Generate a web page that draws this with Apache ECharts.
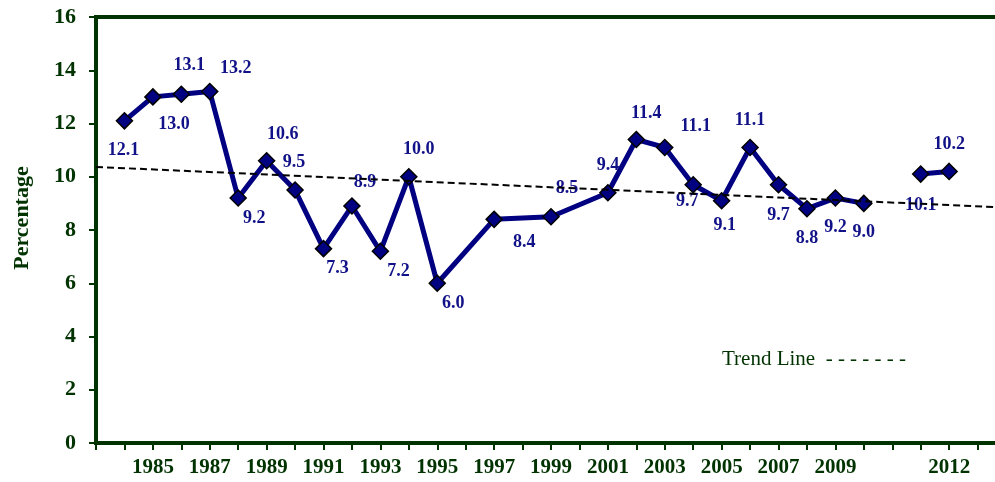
<!DOCTYPE html>
<html>
<head>
<meta charset="utf-8">
<script src="https://cdn.jsdelivr.net/npm/echarts@6/dist/echarts.min.js"></script>
<style>
  html, body { margin: 0; padding: 0; background: #fff; overflow: hidden; }
  /* the plot frame runs past the right edge of the window, so the host is wider */
  #chart { width: 1020px; height: 482px; }
</style>
</head>
<body>
<div id="chart"></div>
<script>
// categories: blank slot at start, 1984..2010, a gap, 2011, 2012, trailing slots
const categories = ['',
  '1984', '1985', '1986', '1987', '1988', '1989', '1990', '1991', '1992', '1993',
  '1994', '1995', '1996', '1997', '1998', '1999', '2000', '2001', '2002', '2003',
  '2004', '2005', '2006', '2007', '2008', '2009', '2010',
  ' ', '2011', '2012', '  ', '   ']

const shownLabels = ['1985', '1987', '1989', '1991', '1993', '1995', '1997', '1999',
  '2001', '2003', '2005', '2007', '2009', '2012']

// main series, 1984-2010 (years without a marker are null)
const mainValues = [null,
  12.1, 13.0, 13.1, 13.2, 9.2, 10.6, 9.5, 7.3, 8.9, 7.2,
  10.0, 6.0, null, 8.4, null, 8.5, null, 9.4, 11.4, 11.1,
  9.7, 9.1, 11.1, 9.7, 8.8, 9.2, 9.0,
  null, null, null, null, null]

// 2011-2012 segment
const lateValues = [null,
  null, null, null, null, null, null, null, null, null, null,
  null, null, null, null, null, null, null, null, null, null,
  null, null, null, null, null, null, null,
  null, 10.1, 10.2, null, null]

// trend line end points
const trendValues = [10.37,
  null, null, null, null, null, null, null, null, null, null,
  null, null, null, null, null, null, null, null, null, null,
  null, null, null, null, null, null, null,
  null, null, null, null, 8.84]

// label offsets (px from marker centre), same index as the values
const labelOffsets = {
  1: [-1, 30], 2: [21, 27], 3: [8, -29], 4: [26, -23], 5: [16, 20],
  6: [16, -26], 7: [-1, -28], 8: [14, 20], 9: [13, -24], 10: [18, 20],
  11: [10, -27], 12: [16, 20], 14: [30, 23], 16: [16, -28], 18: [0, -27],
  19: [10, -26], 20: [31, -21], 21: [-6, 17], 22: [3, 25], 23: [0, -27],
  24: [0, 31], 25: [0, 30], 26: [0, 29], 27: [0, 29],
  29: [0, 31], 30: [0, -27]
}

const GREEN = '#003300'
const NAVY = '#000080'
const SERIF = "'Times New Roman', 'Liberation Serif', serif"

function withLabels(values) {
  return values.map((v, i) => {
    if (v == null) return null
    return { value: v, label: { offset: labelOffsets[i] || [0, 0] } }
  })
}

function pointSeries(values) {
  return {
    type: 'line',
    z: 2,
    connectNulls: true,
    symbol: 'diamond',
    symbolSize: 16,
    lineStyle: { color: NAVY, width: 5 },
    itemStyle: { color: NAVY, borderColor: '#000', borderWidth: 1.5 },
    label: {
      show: true,
      position: 'inside',
      color: '#111188',
      fontFamily: SERIF,
      fontWeight: 'bold',
      fontSize: 18,
      formatter: p => p.value.toFixed(1)
    },
    emphasis: { disabled: true },
    data: withLabels(values)
  }
}

const chart = echarts.init(document.getElementById('chart'), null, { renderer: 'canvas' })

chart.setOption({
  animation: false,
  backgroundColor: '#fff',
  grid: {
    left: 96, right: 14, top: 17, bottom: 39,
    show: true,
    borderColor: GREEN,
    borderWidth: 4
  },
  xAxis: {
    type: 'category',
    boundaryGap: false,
    data: categories,
    axisLine: { lineStyle: { color: GREEN, width: 4 } },
    axisTick: { show: true, interval: 0, length: 7, lineStyle: { color: GREEN, width: 2 } },
    axisLabel: {
      interval: 0,
      margin: 14,
      color: GREEN,
      fontFamily: SERIF,
      fontWeight: 'bold',
      fontSize: 21,
      formatter: v => shownLabels.includes(v) ? v : ''
    },
    splitLine: { show: false }
  },
  yAxis: {
    type: 'value',
    min: 0, max: 16, interval: 2,
    axisLine: { show: true, lineStyle: { color: GREEN, width: 4 } },
    axisTick: { show: true, length: 7, lineStyle: { color: GREEN, width: 2 } },
    axisLabel: {
      margin: 20,
      color: GREEN,
      fontFamily: SERIF,
      fontWeight: 'bold',
      fontSize: 22
    },
    splitLine: { show: false }
  },
  graphic: [
    {
      type: 'text',
      x: 22, y: 218,
      rotation: Math.PI / 2,
      style: {
        text: 'Percentage',
        fill: GREEN,
        font: 'bold 22px ' + SERIF,
        align: 'center',
        verticalAlign: 'middle'
      }
    },
    {
      type: 'text',
      x: 722, y: 359,
      style: {
        text: 'Trend Line  - - - - - - -',
        fill: GREEN,
        font: '21px ' + SERIF,
        align: 'left',
        verticalAlign: 'middle'
      }
    }
  ],
  series: [
    pointSeries(mainValues),
    pointSeries(lateValues),
    {
      type: 'line',
      z: 5,
      connectNulls: true,
      symbol: 'none',
      lineStyle: { color: '#000', width: 2, type: [7, 4] },
      emphasis: { disabled: true },
      data: trendValues
    }
  ]
})
</script>
</body>
</html>
